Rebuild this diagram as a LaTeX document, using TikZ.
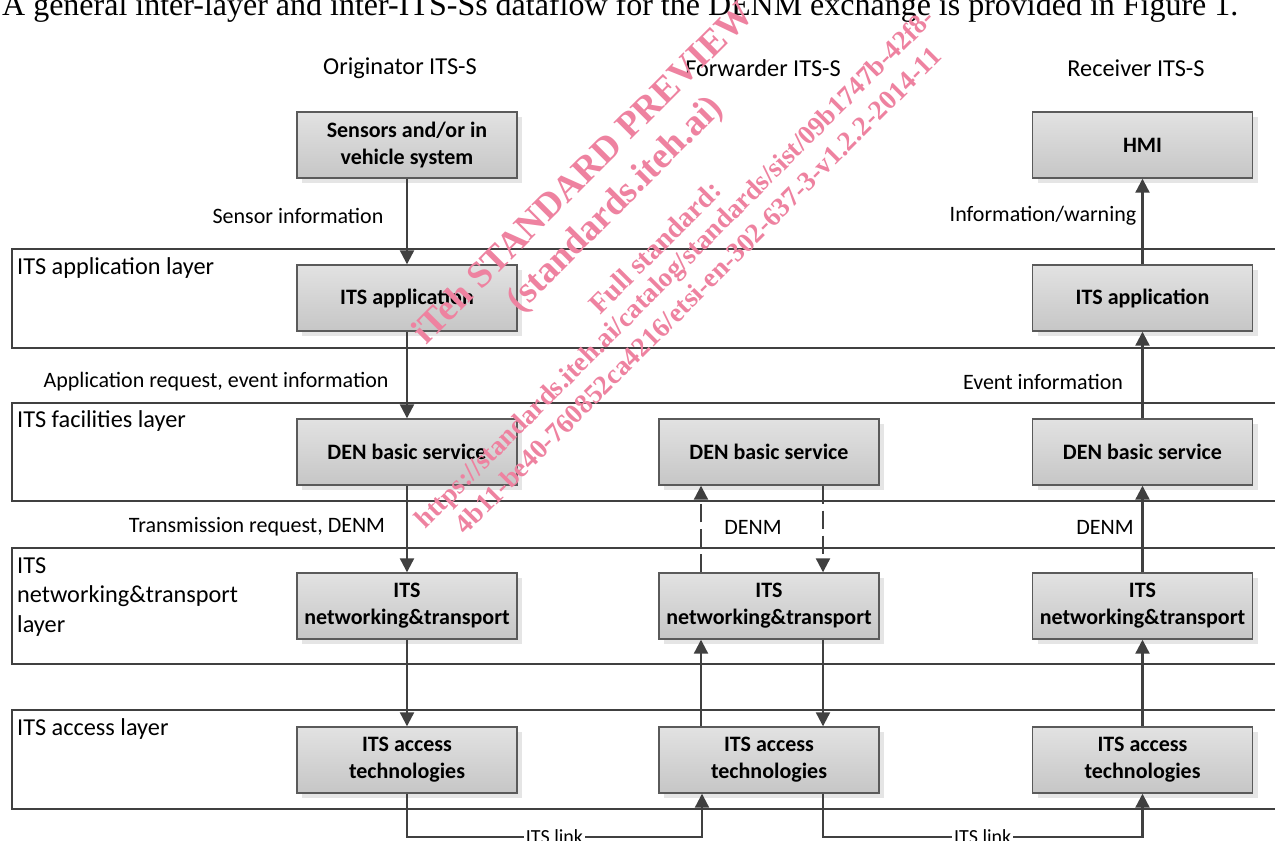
\documentclass[tikz,border=0pt]{standalone}
\usepackage{fontspec}
\setmainfont{Carlito}
\newfontfamily\wmfont{Liberation Serif}
\usetikzlibrary{arrows.meta,shadows,calc}
\definecolor{ln}{HTML}{404040}
\definecolor{bd}{HTML}{5A5A5A}
\definecolor{boxtop}{HTML}{E2E2E2}
\definecolor{boxbot}{HTML}{C6C6C6}
\definecolor{wm}{RGB}{238,130,160}
\begin{document}
\begin{tikzpicture}[x=1pt,y=-1pt,
  every node/.style={font=\fontsize{22}{27}\selectfont, inner sep=0pt},
  blk/.style={draw=bd, line width=1.4pt, top color=boxtop, bottom color=boxbot,
    minimum width=220pt, minimum height=66pt, align=center,
    font=\fontsize{22}{27}\selectfont\bfseries,
    drop shadow={shadow xshift=5pt, shadow yshift=-5pt, fill=black!10, opacity=1}},
  layerbox/.style={draw=ln, line width=1.8pt},
  lay/.style={anchor=west, align=left, font=\fontsize{24.3}{29.5}\selectfont},
  hdr/.style={font=\fontsize{24.3}{29}\selectfont},
  flow/.style={draw=ln, line width=2.2pt, -{Triangle[width=14pt,length=14pt]}},
  dflow/.style={flow, dash pattern=on 18pt off 7pt},
  linklbl/.style={fill=white, inner sep=2pt, pos=0.25, font=\fontsize{20}{24}\selectfont},
  wmtext/.style={text=wm, rotate=45, anchor=center, font=\wmfont\bfseries}
]
\useasboundingbox (0,0) rectangle (1275,841);
\fill[white] (0,0) rectangle (1275,841);

% caption line from the page
\node[anchor=base west, font=\wmfont] (cap) at (2,15)
  {\resizebox{1236pt}{!}{A general inter-layer and inter-ITS-Ss dataflow for the DENM exchange is provided in Figure 1.}};

% layers
\draw[layerbox] (12,249) rectangle (1300,348);
\draw[layerbox] (12,403) rectangle (1300,501);
\draw[layerbox] (12,548) rectangle (1300,664);
\draw[layerbox] (12,710) rectangle (1300,809);
\node[lay] (lapp) at (17,268) {ITS application layer};
\node[lay] (lfac) at (17,421) {ITS facilities layer};
\node[lay] (lnet) at (17,597) {ITS\\networking\&transport\\layer};
\node[lay] (lacc) at (17,729) {ITS access layer};

% column headers
\node[hdr] (hA) at (400,68) {Originator ITS-S};
\node[hdr] (hF) at (763,68) {Forwarder ITS-S};
\node[hdr] (hR) at (1136,68) {Receiver ITS-S};

% boxes
\node[blk] (sens) at (407,145) {Sensors and/or in\\vehicle system};
\node[blk] (hmi)  at (1142.5,145) {HMI};
\node[blk] (appA) at (407,298) {ITS application};
\node[blk] (appR) at (1142.5,298) {ITS application};
\node[blk] (denA) at (407,452) {DEN basic service};
\node[blk] (denF) at (769,452) {DEN basic service};
\node[blk] (denR) at (1142.5,452) {DEN basic service};
\node[blk] (netA) at (407,606) {ITS\\networking\&transport};
\node[blk] (netF) at (769,606) {ITS\\networking\&transport};
\node[blk] (netR) at (1142.5,606) {ITS\\networking\&transport};
\node[blk] (accA) at (407,760) {ITS access\\technologies};
\node[blk] (accF) at (769,760) {ITS access\\technologies};
\node[blk] (accR) at (1142.5,760) {ITS access\\technologies};

% flow labels
\node (t1) at (298,216) {Sensor information};
\node (t2) at (1043,216) {Information/warning};
\node (t3) at (216,382) {Application request, event information};
\node (t4) at (1043,382) {Event information};
\node (t5) at (257,527) {Transmission request, DENM};
\node (t6) at (753,527) {DENM};
\node (t7) at (1105,527) {DENM};

% originator
\draw[flow] (sens.south) -- (appA.north);
\draw[flow] (appA.south) -- (denA.north);
\draw[flow] (denA.south) -- (netA.north);
\draw[flow] (netA.south) -- (accA.north);
% forwarder
\draw[dflow] ([xshift=-68pt]netF.north) -- ([xshift=-68pt]denF.south);
\draw[dflow] ([xshift=54pt]denF.south) -- ([xshift=54pt]netF.north);
\draw[flow] ([xshift=-68pt]accF.north) -- ([xshift=-68pt]netF.south);
\draw[flow] ([xshift=54pt]netF.south) -- ([xshift=54pt]accF.north);
% receiver
\draw[flow] (accR.north) -- (netR.south);
\draw[flow] (netR.north) -- (denR.south);
\draw[flow] (denR.north) -- (appR.south);
\draw[flow] (appR.north) -- (hmi.south);
% ITS links
\draw[flow] (accA.south) -- ++(0,43) -| ([xshift=-67pt]accF.south)
  node[linklbl] (k1) {ITS link};
\draw[flow] ([xshift=54pt]accF.south) -- ++(0,43) -| (accR.south)
  node[linklbl] (k2) {ITS link};

% watermark
\node[wmtext] (wm1) at (582,172) {\resizebox{466pt}{!}{iTeh STANDARD PREVIEW}};
\node[wmtext] (wm2) at (616,205) {\resizebox{288pt}{!}{(standards.iteh.ai)}};
\node[wmtext] (wm3) at (655,247) {\resizebox{174pt}{!}{Full standard:}};
\node[wmtext] (wm4) at (676,270) {\resizebox{721pt}{!}{https://standards.iteh.ai/catalog/standards/sist/09b1747b-42f8-}};
\node[wmtext] (wm5) at (698,290) {\resizebox{675pt}{!}{4b11-be40-760852ca4216/etsi-en-302-637-3-v1.2.2-2014-11}};
\end{tikzpicture}
\end{document}
